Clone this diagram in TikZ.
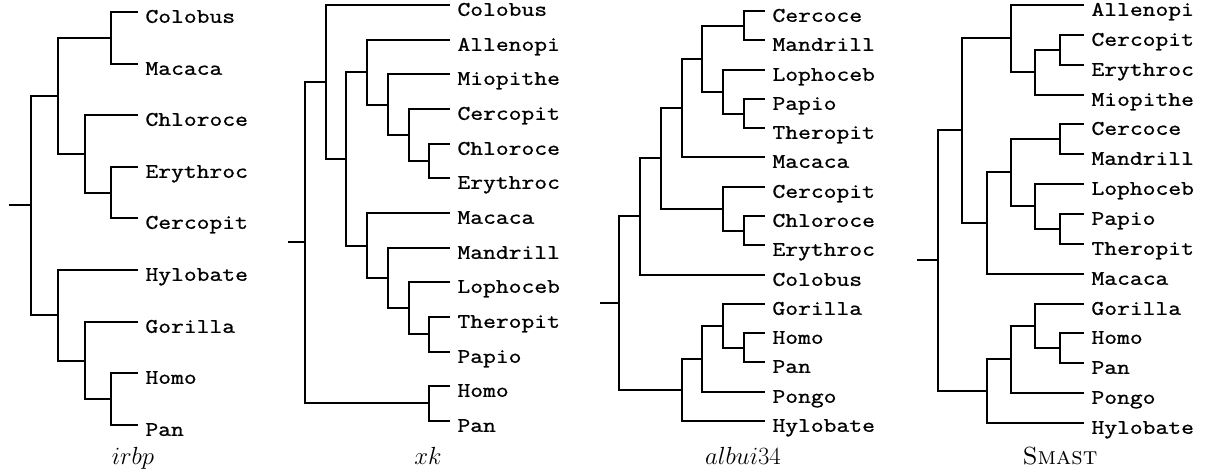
\documentclass[tikz,border=0pt]{standalone}
\usepackage{fontspec}
\setmonofont{Latin Modern Mono}[FakeStretch=1.2, FakeBold=1]
\usepackage{tikz}

\begin{document}
\begin{tikzpicture}[x=1bp, y=-1bp, line width=2bp,
	leaf/.style={anchor=west, font=\ttfamily\fontsize{20.8}{24}\selectfont,
		inner xsep=7.5pt, inner ysep=0pt, outer sep=0pt, text height=21.7pt, text depth=0pt},
	caption/.style={anchor=base, font=\Huge}]
	\useasboundingbox (0,0) rectangle (1208,475);
	
	% irbp
	\node[leaf] (i-Colobus) at (138,12) {Colobus};
	\node[leaf] (i-Macaca) at (138,64) {Macaca};
	\node[leaf] (i-Chloroce) at (138,115) {Chloroce};
	\node[leaf] (i-Erythroc) at (138,167) {Erythroc};
	\node[leaf] (i-Cercopit) at (138,218) {Cercopit};
	\node[leaf] (i-Hylobate) at (138,270) {Hylobate};
	\node[leaf] (i-Gorilla) at (138,322) {Gorilla};
	\node[leaf] (i-Homo) at (138,373) {Homo};
	\node[leaf] (i-Pan) at (138,425) {Pan};
	\coordinate (i1) at (111,38);
	\coordinate (i2) at (111,193);
	\coordinate (i3) at (85,154);
	\coordinate (i4) at (58,96);
	\coordinate (i5) at (111,399);
	\coordinate (i6) at (85,361);
	\coordinate (i7) at (58,315);
	\coordinate (i-root) at (31,205);
	\coordinate (i-stub) at (9,205);
	
	\draw (i-stub) -- (i-root);
	\draw (i-root) |- (i4) (i-root) |- (i7);
	\draw (i4) |- (i1) (i4) |- (i3);
	\draw (i1) |- (i-Colobus) (i1) |- (i-Macaca);
	\draw (i3) |- (i-Chloroce) (i3) |- (i2);
	\draw (i2) |- (i-Erythroc) (i2) |- (i-Cercopit);
	\draw (i7) |- (i-Hylobate) (i7) |- (i6);
	\draw (i6) |- (i-Gorilla) (i6) |- (i5);
	\draw (i5) |- (i-Homo) (i5) |- (i-Pan);
	\node[caption] (i-cap) at (133,465) {$irbp$};
	
	% xk
	\node[leaf] (x-Colobus) at (450,5) {Colobus};
	\node[leaf] (x-Allenopi) at (450,40) {Allenopi};
	\node[leaf] (x-Miopithe) at (450,74) {Miopithe};
	\node[leaf] (x-Cercopit) at (450,109) {Cercopit};
	\node[leaf] (x-Chloroce) at (450,144) {Chloroce};
	\node[leaf] (x-Erythroc) at (450,178) {Erythroc};
	\node[leaf] (x-Macaca) at (450,213) {Macaca};
	\node[leaf] (x-Mandrill) at (450,248) {Mandrill};
	\node[leaf] (x-Lophoceb) at (450,282) {Lophoceb};
	\node[leaf] (x-Theropit) at (450,317) {Theropit};
	\node[leaf] (x-Papio) at (450,352) {Papio};
	\node[leaf] (x-Homo) at (450,386) {Homo};
	\node[leaf] (x-Pan) at (450,421) {Pan};
	\coordinate (x1) at (429,161);
	\coordinate (x2) at (409,135);
	\coordinate (x3) at (388,105);
	\coordinate (x4) at (367,72);
	\coordinate (x5) at (429,334);
	\coordinate (x6) at (409,308);
	\coordinate (x7) at (388,278);
	\coordinate (x8) at (367,246);
	\coordinate (x9) at (346,159);
	\coordinate (x10) at (326,82);
	\coordinate (x11) at (429,403);
	\coordinate (x-root) at (305,242);
	\coordinate (x-stub) at (288,242);
	
	\draw (x-stub) -- (x-root);
	\draw (x-root) |- (x10) (x-root) |- (x11);
	\draw (x10) |- (x-Colobus) (x10) |- (x9);
	\draw (x9) |- (x4) (x9) |- (x8);
	\draw (x4) |- (x-Allenopi) (x4) |- (x3);
	\draw (x3) |- (x-Miopithe) (x3) |- (x2);
	\draw (x2) |- (x-Cercopit) (x2) |- (x1);
	\draw (x1) |- (x-Chloroce) (x1) |- (x-Erythroc);
	\draw (x8) |- (x-Macaca) (x8) |- (x7);
	\draw (x7) |- (x-Mandrill) (x7) |- (x6);
	\draw (x6) |- (x-Lophoceb) (x6) |- (x5);
	\draw (x5) |- (x-Theropit) (x5) |- (x-Papio);
	\draw (x11) |- (x-Homo) (x11) |- (x-Pan);
	\node[caption] (x-cap) at (428,465) {$xk$};
	
	% albui34
	\node[leaf] (a-Cercoce) at (765,11) {Cercoce};
	\node[leaf] (a-Mandrill) at (765,40) {Mandrill};
	\node[leaf] (a-Lophoceb) at (765,70) {Lophoceb};
	\node[leaf] (a-Papio) at (765,99) {Papio};
	\node[leaf] (a-Theropit) at (765,128) {Theropit};
	\node[leaf] (a-Macaca) at (765,157) {Macaca};
	\node[leaf] (a-Cercopit) at (765,187) {Cercopit};
	\node[leaf] (a-Chloroce) at (765,216) {Chloroce};
	\node[leaf] (a-Erythroc) at (765,245) {Erythroc};
	\node[leaf] (a-Colobus) at (765,275) {Colobus};
	\node[leaf] (a-Gorilla) at (765,304) {Gorilla};
	\node[leaf] (a-Homo) at (765,333) {Homo};
	\node[leaf] (a-Pan) at (765,362) {Pan};
	\node[leaf] (a-Pongo) at (765,392) {Pongo};
	\node[leaf] (a-Hylobate) at (765,421) {Hylobate};
	\coordinate (a1) at (744,26);
	\coordinate (a2) at (744,114);
	\coordinate (a3) at (723,92);
	\coordinate (a4) at (702,59);
	\coordinate (a5) at (682,108);
	\coordinate (a6) at (744,231);
	\coordinate (a7) at (723,209);
	\coordinate (a8) at (661,158);
	\coordinate (a9) at (640,216);
	\coordinate (a10) at (744,348);
	\coordinate (a11) at (723,326);
	\coordinate (a12) at (702,359);
	\coordinate (a13) at (682,390);
	\coordinate (a-root) at (619,303);
	\coordinate (a-stub) at (600,303);
	
	\draw (a-stub) -- (a-root);
	\draw (a-root) |- (a9) (a-root) |- (a13);
	\draw (a9) |- (a8) (a9) |- (a-Colobus);
	\draw (a8) |- (a5) (a8) |- (a7);
	\draw (a5) |- (a4) (a5) |- (a-Macaca);
	\draw (a4) |- (a1) (a4) |- (a3);
	\draw (a1) |- (a-Cercoce) (a1) |- (a-Mandrill);
	\draw (a3) |- (a-Lophoceb) (a3) |- (a2);
	\draw (a2) |- (a-Papio) (a2) |- (a-Theropit);
	\draw (a7) |- (a-Cercopit) (a7) |- (a6);
	\draw (a6) |- (a-Chloroce) (a6) |- (a-Erythroc);
	\draw (a13) |- (a12) (a13) |- (a-Hylobate);
	\draw (a12) |- (a11) (a12) |- (a-Pongo);
	\draw (a11) |- (a-Gorilla) (a11) |- (a10);
	\draw (a10) |- (a-Homo) (a10) |- (a-Pan);
	\node[caption] (a-cap) at (743,465) {$albui34$};
	
	% Smast
	\node[leaf] (s-Allenopi) at (1084,5) {Allenopi};
	\node[leaf] (s-Cercopit) at (1084,35) {Cercopit};
	\node[leaf] (s-Erythroc) at (1084,65) {Erythroc};
	\node[leaf] (s-Miopithe) at (1084,95) {Miopithe};
	\node[leaf] (s-Cercoce) at (1084,124) {Cercoce};
	\node[leaf] (s-Mandrill) at (1084,154) {Mandrill};
	\node[leaf] (s-Lophoceb) at (1084,184) {Lophoceb};
	\node[leaf] (s-Papio) at (1084,214) {Papio};
	\node[leaf] (s-Theropit) at (1084,244) {Theropit};
	\node[leaf] (s-Macaca) at (1084,274) {Macaca};
	\node[leaf] (s-Gorilla) at (1084,304) {Gorilla};
	\node[leaf] (s-Homo) at (1084,333) {Homo};
	\node[leaf] (s-Pan) at (1084,363) {Pan};
	\node[leaf] (s-Pongo) at (1084,393) {Pongo};
	\node[leaf] (s-Hylobate) at (1084,423) {Hylobate};
	\coordinate (s1) at (1060,50);
	\coordinate (s2) at (1035,72);
	\coordinate (s3) at (1011,38);
	\coordinate (s4) at (1060,139);
	\coordinate (s5) at (1060,229);
	\coordinate (s6) at (1035,206);
	\coordinate (s7) at (1011,172);
	\coordinate (s8) at (987,223);
	\coordinate (s9) at (962,130);
	\coordinate (s10) at (1060,348);
	\coordinate (s11) at (1035,326);
	\coordinate (s12) at (1011,359);
	\coordinate (s13) at (987,391);
	\coordinate (s-root) at (938,260);
	\coordinate (s-stub) at (917,260);
	
	\draw (s-stub) -- (s-root);
	\draw (s-root) |- (s9) (s-root) |- (s13);
	\draw (s9) |- (s3) (s9) |- (s8);
	\draw (s3) |- (s-Allenopi) (s3) |- (s2);
	\draw (s2) |- (s1) (s2) |- (s-Miopithe);
	\draw (s1) |- (s-Cercopit) (s1) |- (s-Erythroc);
	\draw (s8) |- (s7) (s8) |- (s-Macaca);
	\draw (s7) |- (s4) (s7) |- (s6);
	\draw (s4) |- (s-Cercoce) (s4) |- (s-Mandrill);
	\draw (s6) |- (s-Lophoceb) (s6) |- (s5);
	\draw (s5) |- (s-Papio) (s5) |- (s-Theropit);
	\draw (s13) |- (s12) (s13) |- (s-Hylobate);
	\draw (s12) |- (s11) (s12) |- (s-Pongo);
	\draw (s11) |- (s-Gorilla) (s11) |- (s10);
	\draw (s10) |- (s-Homo) (s10) |- (s-Pan);
	\node[caption] (s-cap) at (1060,465) {\textsc{Smast}};
\end{tikzpicture}
\end{document}
